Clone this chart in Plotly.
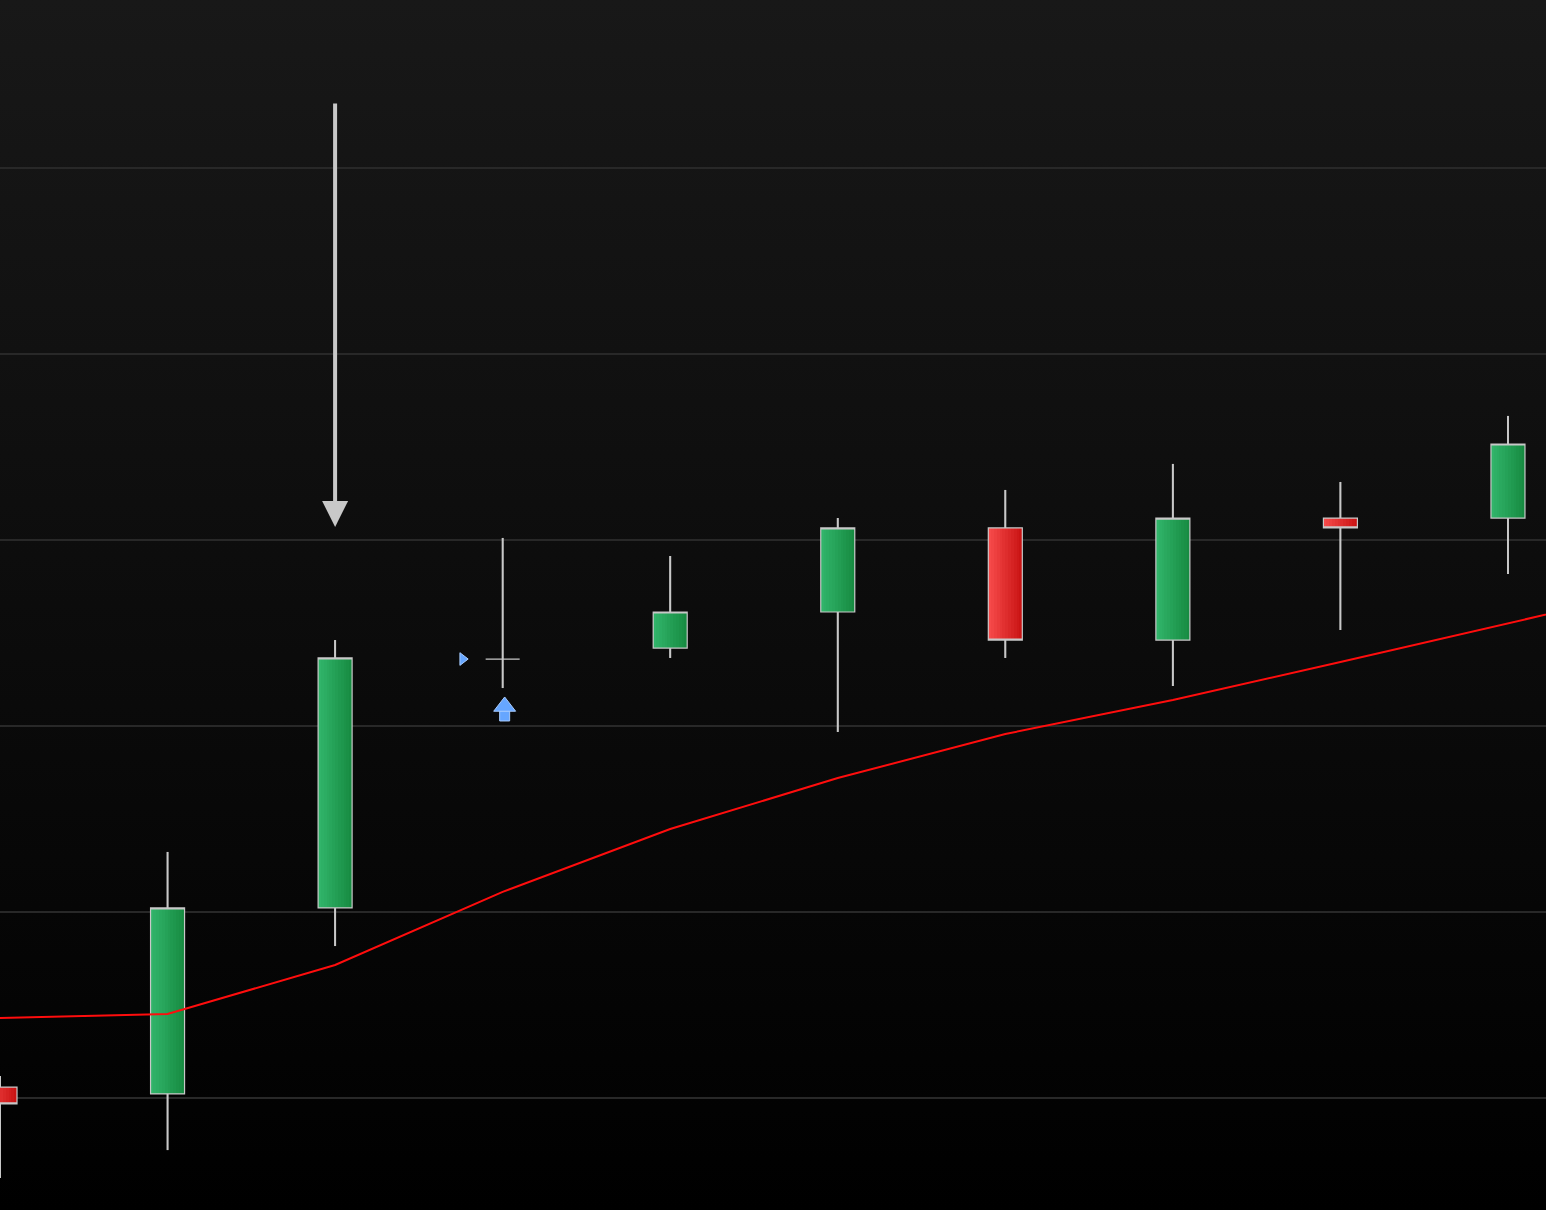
import base64
import plotly.graph_objects as go

# ---- data ----
idx = [0, 1, 2, 3, 4, 5, 6, 7, 8, 9]
opens = [110.59, 110.22, 120.22, 133.60, 134.19, 136.13, 140.65, 134.62, 141.18, 141.18]
highs = [111.18, 123.23, 134.62, 140.11, 139.14, 141.18, 142.69, 144.09, 143.12, 146.67]
lows = [105.70, 107.20, 118.17, 132.04, 133.66, 129.68, 133.66, 132.15, 135.16, 138.17]
closes = [109.68, 120.22, 133.66, 133.60, 136.13, 140.65, 134.62, 141.18, 140.65, 145.16]

ma_idx = [0, 1, 2, 3, 4, 5, 6, 7, 8, 9, 10]
ma_vals = [114.30, 114.52, 117.15, 121.08, 124.46, 127.20, 129.57, 131.40, 133.44, 135.54, 137.60]

sell_idx = 2
sell_tip = 140.70
sell_top = 163.55

buy_idx = 3
buy_tip = 131.56
entry_price = 133.60

# ---- scales ----
X_RANGE = [0, 9.227]
Y_RANGE = [103.98, 169.03]
W, H = 1546, 1210
px_per_x = W / (X_RANGE[1] - X_RANGE[0])
px_per_y = H / (Y_RANGE[1] - Y_RANGE[0])

GRAY = "#c8c8c8"
GREEN_L, GREEN_R = (50, 182, 108), (22, 138, 64)
RED_L, RED_R = (248, 76, 76), (200, 18, 18)
BLUE = "#66a6ff"
BLUE_EDGE = "#a8ccff"

BOXGAP = 0.797
BODY_W = 1 - BOXGAP
N_STRIPS = 12


def mix(a, b, t):
    return "rgb(%d,%d,%d)" % tuple(round(a[i] + (b[i] - a[i]) * t) for i in range(3))


fig = go.Figure()

# gradient-filled candle bodies, built from thin vertical bar strips
base_vals = [min(o, c) for o, c in zip(opens, closes)]
top_vals = [max(o, c) for o, c in zip(opens, closes)]
body_h = [t - b for t, b in zip(top_vals, base_vals)]
is_up = [c > o for o, c in zip(opens, closes)]
sw = BODY_W / N_STRIPS
for k in range(N_STRIPS):
    t = (k + 0.5) / N_STRIPS
    cols = [mix(GREEN_L, GREEN_R, t) if u else mix(RED_L, RED_R, t) for u in is_up]
    fig.add_trace(go.Bar(
        x=idx, y=body_h, base=base_vals,
        offset=-BODY_W / 2 + k * sw, width=sw,
        marker=dict(color=cols, line=dict(width=0)),
        showlegend=False, hoverinfo="skip",
    ))

# borders (and thin wicks) from the candlestick trace
fig.add_trace(go.Candlestick(
    x=idx, open=opens, high=highs, low=lows, close=closes,
    increasing=dict(line=dict(color=GRAY, width=1.2), fillcolor="rgba(0,0,0,0)"),
    decreasing=dict(line=dict(color=GRAY, width=1.2), fillcolor="rgba(0,0,0,0)"),
    whiskerwidth=0, showlegend=False, hoverinfo="skip",
))

# thicker wicks (outside the bodies)
wx, wy = [], []
for i, lo, hi, b, t in zip(idx, lows, highs, base_vals, top_vals):
    wx += [i, i, None, i, i, None]
    wy += [lo, b, None, t, hi, None]
fig.add_trace(go.Scatter(
    x=wx, y=wy, mode="lines", line=dict(color=GRAY, width=2),
    showlegend=False, hoverinfo="skip", connectgaps=False,
))

fig.add_trace(go.Scatter(
    x=ma_idx, y=ma_vals, mode="lines",
    line=dict(color="#ff0d0d", width=2), showlegend=False, hoverinfo="skip",
))

# buy arrow (stem + head)
fig.add_trace(go.Scatter(
    x=[buy_idx + 2 / px_per_x, buy_idx + 2 / px_per_x],
    y=[buy_tip - 19 / px_per_y, buy_tip - 9.5 / px_per_y],
    mode="markers",
    marker=dict(symbol=["square", "triangle-up"], size=[10, 19], color=BLUE,
                line=dict(color=BLUE_EDGE, width=1), opacity=1),
    showlegend=False, hoverinfo="skip",
))

# entry marker (small right-pointing triangle)
fig.add_trace(go.Scatter(
    x=[buy_idx - 40 / px_per_x], y=[entry_price],
    mode="markers",
    marker=dict(symbol="triangle-right", size=11, color=BLUE,
                line=dict(color=BLUE_EDGE, width=1), opacity=1),
    showlegend=False, hoverinfo="skip",
))

# sell arrow
fig.add_annotation(
    x=sell_idx, y=sell_tip, ax=sell_idx, ay=sell_top,
    xref="x", yref="y", axref="x", ayref="y",
    showarrow=True, arrowhead=2, arrowwidth=4, arrowsize=1.3,
    arrowcolor=GRAY, text="", standoff=0,
)

svg = (
    '<svg xmlns="http://www.w3.org/2000/svg" width="100" height="100" preserveAspectRatio="none">'
    '<defs><linearGradient id="g" x1="0" y1="0" x2="0" y2="1">'
    '<stop offset="0" stop-color="#181818"/><stop offset="1" stop-color="#000000"/>'
    '</linearGradient></defs><rect width="100" height="100" fill="url(#g)"/></svg>'
)
src = "data:image/svg+xml;base64," + base64.b64encode(svg.encode()).decode()
fig.add_layout_image(dict(source=src, xref="paper", yref="paper", x=0, y=1,
                          sizex=1, sizey=1, sizing="stretch", layer="below"))

fig.update_layout(
    width=W, height=H,
    margin=dict(l=0, r=0, t=0, b=0),
    paper_bgcolor="#000000", plot_bgcolor="rgba(0,0,0,0)",
    barmode="overlay", bargap=0,
    boxgap=BOXGAP, boxgroupgap=0,
    xaxis=dict(range=X_RANGE, showgrid=False, zeroline=False, showticklabels=False,
               showline=False, rangeslider=dict(visible=False), fixedrange=True),
    yaxis=dict(range=Y_RANGE, showgrid=True, gridcolor="#282828", gridwidth=2,
               tick0=0, dtick=10, zeroline=False, showticklabels=False, showline=False,
               fixedrange=True),
)

fig.write_html(
    "out.html",
    config={"displayModeBar": False},
    post_script="document.body.style.margin='0';document.body.style.overflow='hidden';",
)
